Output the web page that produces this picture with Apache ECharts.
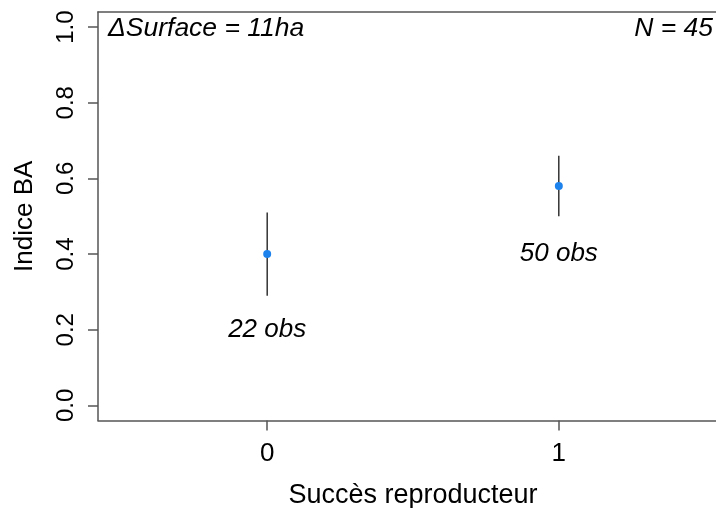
<!DOCTYPE html>
<html>
<head>
<meta charset="utf-8">
<script src="https://cdn.jsdelivr.net/npm/echarts@6/dist/echarts.min.js"></script>
<style>
html,body{margin:0;padding:0;background:#fff;}
#chart{width:716px;height:508px;}
</style>
</head>
<body>
<div id="chart"></div>
<script>
// ---- data ----
const categories = [0, 1];
const means = [0.40, 0.58];
const lower = [0.29, 0.50];
const upper = [0.51, 0.66];
const obsLabels = ['22 obs', '50 obs'];
const obsLabelY = [0.20, 0.40];
const xTicks = [0, 1];
const yTicks = [0, 0.2, 0.4, 0.6, 0.8, 1.0];
const xTitle = 'Succès reproducteur';
const yTitle = 'Indice BA';
const topLeftText = 'ΔSurface = 11ha';
const topRightText = 'N = 45';

const FONT = "'Liberation Sans', Arial, sans-serif";
const BOX = '#555';
const chart = echarts.init(document.getElementById('chart'));

const errData = categories.map((c, i) => [c, lower[i], upper[i]]);
const ptData = categories.map((c, i) => [c, means[i]]);
const lblData = categories.map((c, i) => [c, obsLabelY[i], obsLabels[i]]);

const XMIN = -0.58, XMAX = 1.58;

chart.setOption({
  animation: false,
  backgroundColor: '#fff',
  title: [
    {text: topLeftText, left: 108, top: 16, padding: 0,
     textStyle: {fontFamily: FONT, fontSize: 26.5, fontStyle: 'italic', fontWeight: 'normal', color: '#000', lineHeight: 26}},
    {text: topRightText, right: 3, top: 16, padding: 0,
     textStyle: {fontFamily: FONT, fontSize: 26.5, fontStyle: 'italic', fontWeight: 'normal', color: '#000', lineHeight: 26}}
  ],
  grid: {left: 98, top: 12, width: 630, height: 408.5, show: false,
         containLabel: false, outerBoundsMode: 'none'},
  xAxis: [{
    type: 'value', min: XMIN, max: XMAX, position: 'bottom',
    name: xTitle, nameLocation: 'middle', nameGap: 62,
    nameTextStyle: {fontFamily: FONT, fontSize: 27, color: '#000'},
    axisLine: {show: true, onZero: false, lineStyle: {color: BOX, width: 1.5}},
    splitLine: {show: false},
    axisTick: {show: true, inside: false, length: 10, customValues: xTicks,
               lineStyle: {color: BOX, width: 1.5}},
    axisLabel: {show: true, customValues: xTicks, margin: 20,
                fontFamily: FONT, fontSize: 26, color: '#000',
                formatter: v => String(v)}
  }, {
    type: 'value', min: XMIN, max: XMAX, position: 'top',
    axisLine: {show: true, onZero: false, lineStyle: {color: BOX, width: 1.5}},
    axisTick: {show: false}, axisLabel: {show: false}, splitLine: {show: false}
  }],
  yAxis: {
    type: 'value', min: -0.04, max: 1.04,
    name: yTitle, nameLocation: 'middle', nameGap: 60,
    nameTextStyle: {fontFamily: FONT, fontSize: 26, color: '#000'},
    axisLine: {show: true, onZero: false, lineStyle: {color: BOX, width: 1.5}},
    splitLine: {show: false},
    axisTick: {show: true, inside: false, length: 10, customValues: yTicks,
               lineStyle: {color: BOX, width: 1.5}},
    axisLabel: {show: true, customValues: yTicks, margin: 20, rotate: 90,
                fontFamily: FONT, fontSize: 24, color: '#000',
                formatter: v => v.toFixed(1)}
  },
  series: [
    {
      type: 'custom',
      data: errData,
      renderItem: function (params, api) {
        const x = api.value(0);
        const p1 = api.coord([x, api.value(1)]);
        const p2 = api.coord([x, api.value(2)]);
        return {type: 'line', shape: {x1: p1[0], y1: p1[1], x2: p2[0], y2: p2[1]},
                style: {stroke: '#000', lineWidth: 1.2}};
      },
      z: 2
    },
    {
      type: 'scatter', data: ptData, symbol: 'circle', symbolSize: 8,
      itemStyle: {color: '#1E82EC', opacity: 1}, z: 3
    },
    {
      type: 'scatter', data: lblData, symbolSize: 0,
      itemStyle: {opacity: 1},
      label: {show: true, position: 'inside', formatter: p => p.value[2],
              fontFamily: FONT, fontSize: 26, fontStyle: 'italic', color: '#000', opacity: 1},
      z: 4, silent: true
    }
  ]
});
</script>
</body>
</html>
